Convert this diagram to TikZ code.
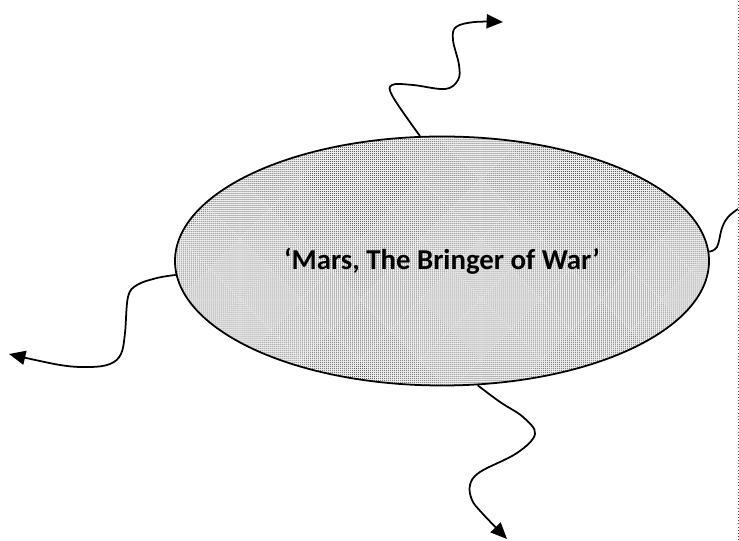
\documentclass[tikz,border=0pt]{standalone}
\usepackage{fontspec}
\setmainfont{Carlito}
\usepackage{tikz}
\usetikzlibrary{arrows.meta,positioning,shapes,patterns.meta}

\begin{document}
\begin{tikzpicture}[x=0.03cm,y=0.03cm,
    wavy/.style={line width=1.5pt,-{Triangle[length=14pt,width=12pt]}},
    planet/.style={ellipse,draw,line width=1.5pt,minimum width=16.02cm,minimum height=7.47cm,
      inner sep=0pt,preaction={fill=gray!12},
      pattern={Dots[distance=1.7pt,radius=0.42pt]},pattern color=black!75,
      font=\bfseries\fontsize{24.6}{30}\selectfont}]
  \useasboundingbox (0,0) rectangle (739,540);

  % Mars
  \node[planet] (mars) at (442,279) {‘Mars, The Bringer of War’};

  % ends of the arrows
  \coordinate (topend) at (503,518);
  \coordinate (leftend) at (9,186);
  \coordinate (bottomend) at (507,1);
  \coordinate (rightend) at (738,331);

  % Arrows
  \draw[wavy] plot[smooth,tension=0.6] coordinates {(mars.100) (393,443) (392,455) (413,455)
    (445,451) (458,460) (459,475) (453,500) (456,513) (475,518) (topend)};
  \draw[wavy] plot[smooth,tension=0.6] coordinates {(mars.183) (157,262) (137,255) (128,243)
    (125,207) (121,186) (110,176) (90,173) (60,175) (leftend)};
  \draw[wavy] plot[smooth,tension=0.6] coordinates {(mars.-74) (500,138) (523,123) (535,106)
    (517,87) (480,68) (470,55) (472,40) (482,27) (bottomend)};
  \draw[line width=1.5pt] plot[smooth,tension=0.6] coordinates {(mars.2) (717,293) (722,312)
    (728,323) (rightend)};

  % right border
  \draw[dotted,line width=0.7pt,black!70] (738,0) -- (738,540);
\end{tikzpicture}
\end{document}
